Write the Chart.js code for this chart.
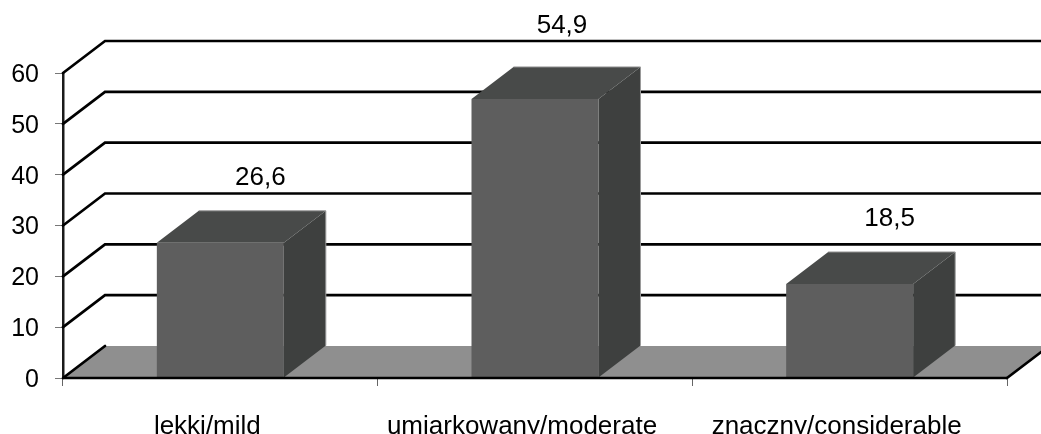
<!DOCTYPE html>
<html>
<head>
<meta charset="utf-8">
<style>html,body{margin:0;padding:0;background:#fff;overflow:hidden}#w{width:1041px;height:434px;position:relative}</style>
<script src="https://cdn.jsdelivr.net/npm/chart.js@4"></script>
</head>
<body>
<div id="w"><canvas id="c" width="1041" height="434"></canvas></div>
<script>
const categories = ["lekki/mild", "umiarkowany/moderate", "znaczny/considerable"];
const values = [26.6, 54.9, 18.5];
const yTicks = [0, 10, 20, 30, 40, 50, 60];

const FONT = '"Liberation Sans", Arial, sans-serif';
const DX = 42, DY = -32;
const labelNudge = { 1: [-13, -8] };

function poly(ctx, pts, fill) {
  ctx.beginPath();
  pts.forEach((p, i) => i ? ctx.lineTo(p[0], p[1]) : ctx.moveTo(p[0], p[1]));
  ctx.closePath();
  ctx.fillStyle = fill; ctx.fill();
}

const box3d = {
  id: 'box3d',
  beforeDatasetsDraw(chart) {
    const { ctx } = chart;
    const xs = chart.scales.x, ys = chart.scales.y;
    const l = xs.left, r = xs.right, y0 = ys.getPixelForValue(0);
    ctx.save();
    poly(ctx, [[l, y0], [l + DX, y0 + DY], [r + DX, y0 + DY], [r, y0]], '#8f8f8f');
    ctx.strokeStyle = '#000'; ctx.lineWidth = 2.7; ctx.lineCap = 'round';
    yTicks.forEach(v => {
      const y = ys.getPixelForValue(v);
      ctx.beginPath();
      ctx.moveTo(l, y); ctx.lineTo(l + DX, y + DY);
      if (v > 0) ctx.lineTo(r + DX, y + DY);
      ctx.stroke();
    });
    ctx.beginPath(); ctx.moveTo(r, y0); ctx.lineTo(r + DX, y0 + DY); ctx.stroke();
    chart.getDatasetMeta(0).data.forEach(b => {
      const x1 = b.x - b.width / 2, x2 = b.x + b.width / 2, t = b.y, bt = b.base;
      poly(ctx, [[x2, t], [x2 + DX, t + DY], [x2 + DX, bt + DY], [x2, bt]], '#3e403f');
      poly(ctx, [[x1, t], [x1 + DX, t + DY], [x2 + DX, t + DY], [x2, t]], '#484a49');
      ctx.strokeStyle = '#9a9a9a'; ctx.lineWidth = 1; ctx.lineCap = 'butt';
      ctx.beginPath();
      ctx.moveTo(x1 + DX, t + DY); ctx.lineTo(x2 + DX, t + DY); ctx.lineTo(x2 + DX, bt + DY);
      ctx.stroke();
    });
    ctx.restore();
  },
  afterDatasetsDraw(chart) {
    const { ctx } = chart;
    const xs = chart.scales.x, ys = chart.scales.y;
    const y0 = ys.getPixelForValue(0);
    ctx.save();
    ctx.strokeStyle = '#000'; ctx.lineWidth = 2.7;
    ctx.beginPath(); ctx.moveTo(xs.left, y0); ctx.lineTo(xs.right, y0); ctx.stroke();
    ctx.fillStyle = '#000';
    ctx.font = '26px ' + FONT;
    ctx.textAlign = 'center'; ctx.textBaseline = 'middle';
    chart.getDatasetMeta(0).data.forEach((b, i) => {
      const n = labelNudge[i] || [0, 0];
      ctx.fillText(String(values[i]).replace('.', ','), b.x + 40 + n[0], b.y - 65 + n[1]);
    });
    ctx.restore();
  }
};

new Chart(document.getElementById('c'), {
  type: 'bar',
  data: {
    labels: categories,
    datasets: [{
      data: values,
      backgroundColor: '#5e5e5e',
      borderWidth: 0,
      barPercentage: 0.4036,
      categoryPercentage: 1
    }]
  },
  options: {
    responsive: false,
    animation: false,
    events: [],
    layout: { padding: { top: 73, right: 34, left: 0, bottom: 0 } },
    plugins: { legend: { display: false }, tooltip: { enabled: false }, title: { display: false } },
    scales: {
      x: {
        afterFit(s) { s.height = 56; },
        border: { display: false },
        grid: { display: true, drawOnChartArea: false, drawTicks: true, tickLength: 8, color: '#666', lineWidth: 1, offset: true },
        ticks: { color: '#000', font: { family: FONT, size: 26 }, padding: 25, labelOffset: -13, maxRotation: 0, autoSkip: false }
      },
      y: {
        min: 0, max: 60,
        afterFit(s) { s.width = 63; },
        border: { display: true, color: '#1a1a1a', width: 2.5 },
        grid: { display: true, drawOnChartArea: false, drawTicks: true, tickLength: 8, color: '#777', lineWidth: 1 },
        ticks: { color: '#000', stepSize: 10, font: { family: FONT, size: 25 }, padding: 16, labelOffset: 2 }
      }
    }
  },
  plugins: [box3d]
});
</script>
</body>
</html>
